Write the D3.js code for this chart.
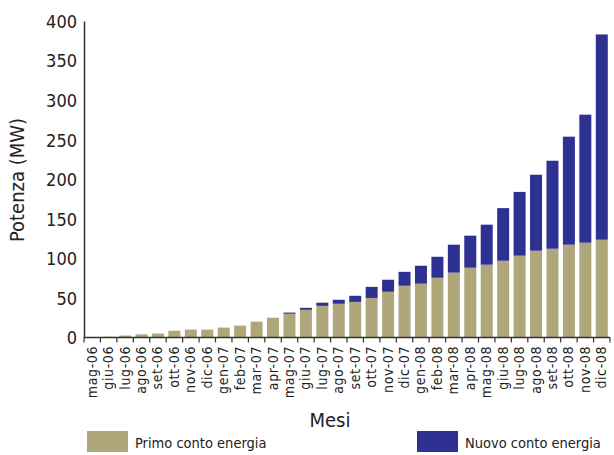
<!DOCTYPE html>
<html><head><meta charset="utf-8">
<script src="https://cdn.jsdelivr.net/npm/d3@7"></script>
<style>
html,body{margin:0;padding:0;background:#fff;}
svg{display:block;}
text{font-family:"DejaVu Sans Condensed","Open Sans",sans-serif;fill:#222;}
</style></head>
<body>
<svg id="chart" width="614" height="455"></svg>
<script>
const months = ["mag-06","giu-06","lug-06","ago-06","set-06","ott-06","nov-06","dic-06",
  "gen-07","feb-07","mar-07","apr-07","mag-07","giu-07","lug-07","ago-07","set-07","ott-07","nov-07","dic-07",
  "gen-08","feb-08","mar-08","apr-08","mag-08","giu-08","lug-08","ago-08","set-08","ott-08","nov-08","dic-08"];
const primo = [0.5,1,2.5,4,5,8.5,10,10,
  12.5,15,20,25,30,35,40,42.6,45,50,57.8,65.4,
  68,75.5,82,88.2,92,97,103.4,109.7,112.2,117.3,119.8,123.6];
const nuovo = [0,0,0,0,0,0,0,0,
  0,0,0,0,1.5,2.5,4,5.1,7.7,14,15.2,17.6,
  22.7,26.5,35.3,40.5,50.6,66.5,80.6,96,111.2,136.5,161.8,259.4];
const yTicks = [0,50,100,150,200,250,300,350,400];
const seriesNames = ["Primo conto energia","Nuovo conto energia"];
const colors = ["#AFA77B","#2E3192"];

const svg = d3.select("#chart");
const mLeft = 84, mRight = 610, mTop = 21, mBottom = 337.5;

const x = d3.scaleBand().domain(months).range([mLeft, mRight]).paddingInner(0.27).paddingOuter(0.135);
const y = d3.scaleLinear().domain([0,400]).range([mBottom, mTop]);

const data = months.map((m,i)=>({m, primo:primo[i], nuovo:nuovo[i]}));
const stack = d3.stack().keys(["primo","nuovo"])(data);

svg.append("g").selectAll("g").data(stack).join("g")
  .attr("fill",(d,i)=>colors[i])
  .selectAll("rect").data(d=>d).join("rect")
  .attr("x",d=>x(d.data.m))
  .attr("width",x.bandwidth())
  .attr("y",d=>y(d[1]))
  .attr("height",d=>Math.max(0,y(d[0])-y(d[1])));

// y axis
const yAxis = svg.append("g").attr("transform",`translate(${mLeft},0)`)
  .call(d3.axisLeft(y).tickValues(yTicks).tickSize(0).tickPadding(7));
yAxis.select(".domain").attr("stroke","#333").attr("stroke-width",1.5);
yAxis.selectAll("text").style("font-size","18px").attr("dy","0.35em");

// x axis with ticks at band edges
const xg = svg.append("g").attr("transform",`translate(0,${mBottom})`);
xg.append("line").attr("x1",mLeft).attr("x2",mRight).attr("stroke","#333").attr("stroke-width",1.5);
const edges = d3.range(months.length+1).map(i=>mLeft + i*(mRight-mLeft)/months.length);
xg.selectAll("line.tk").data(edges).join("line").attr("class","tk")
  .attr("x1",d=>d).attr("x2",d=>d).attr("y1",0).attr("y2",5)
  .attr("stroke","#333").attr("stroke-width",1.2);
xg.selectAll("text.lb").data(months).join("text").attr("class","lb")
  .attr("transform",d=>`translate(${x(d)+x.bandwidth()/2},8.5) rotate(-90)`)
  .attr("text-anchor","end")
  .attr("dy","0.32em")
  .style("font-size","14px")
  .style("letter-spacing","0.6px")
  .text(d=>d);

// axis titles
svg.append("text").attr("transform",`translate(24,180) rotate(-90)`)
  .attr("text-anchor","middle").style("font-size","20px").text("Potenza (MW)");
svg.append("text").attr("x",330).attr("y",427).attr("text-anchor","middle")
  .style("font-size","20px").text("Mesi");

// legend
const legX = [87,417];
const lg = svg.append("g").selectAll("g").data(seriesNames).join("g")
  .attr("transform",(d,i)=>`translate(${legX[i]},431)`);
lg.append("rect").attr("width",41).attr("height",21).attr("fill",(d,i)=>colors[i]);
lg.append("text").attr("x",48).attr("y",17).style("font-size","14.5px").text(d=>d);
</script>
</body></html>
